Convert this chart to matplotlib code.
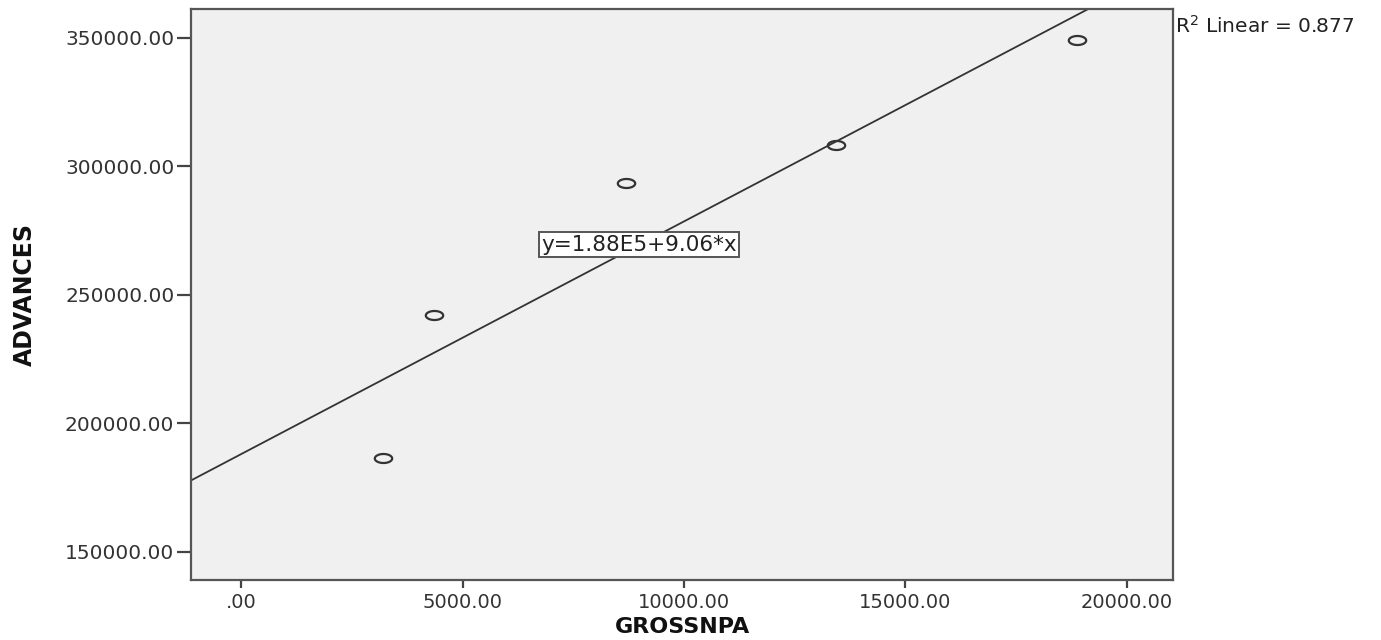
import numpy as np
import matplotlib
matplotlib.use("Agg")
import matplotlib.pyplot as plt
from matplotlib.path import Path

# data
grossnpa = [3212, 4357, 8691, 13431, 18864]
advances = [186470, 242200, 293645, 308460, 349340]
intercept = 1.88e5
slope = 9.06
r2 = 0.877
x_ticks = [0, 5000, 10000, 15000, 20000]
y_ticks = [150000, 200000, 250000, 300000, 350000]

plt.rcParams['font.family'] = ['DejaVu Sans']

fig = plt.figure(figsize=(13.81, 6.4), dpi=100)
ax = fig.add_axes([0.1383, 0.0945, 0.7111, 0.8915])
ax.set_facecolor('#f0f0f0')

# SPSS style wide open circles
t = np.linspace(0, 2 * np.pi, 60)
ellipse = Path(np.column_stack([np.cos(t), 0.52 * np.sin(t)]), closed=True)
ax.plot(grossnpa, advances, linestyle='none', marker=ellipse, markersize=12.5,
        markerfacecolor='none', markeredgecolor='#333333', markeredgewidth=1.6)

xlim = (-1130, 21040)
xs = np.array(xlim)
ax.plot(xs, intercept + slope * xs, color='#333333', linewidth=1.3)

ax.set_xlim(xlim)
ax.set_ylim(139200, 361300)
ax.set_xticks(x_ticks)
ax.set_yticks(y_ticks)
ax.set_xticklabels(['.00' if v == 0 else '%.2f' % v for v in x_ticks])
ax.set_yticklabels(['%.2f' % v for v in y_ticks])
ax.tick_params(axis='x', length=6, width=1.6, color='#444444', labelsize=14,
               labelcolor='#333333', pad=4)
ax.tick_params(axis='y', length=10, width=1.6, color='#444444', labelsize=14.5,
               labelcolor='#333333', pad=2)
for s in ax.spines.values():
    s.set_color('#555555')
    s.set_linewidth(1.6)

ax.set_xlabel('GROSSNPA', fontsize=16, fontweight='bold', color='#111111', labelpad=3)
ax.set_ylabel('ADVANCES', fontsize=17, fontweight='bold', color='#111111', labelpad=20)

ax.text(8984, 269500, 'y=1.88E5+9.06*x', fontsize=15.5, color='#222222',
        ha='center', va='center',
        bbox=dict(boxstyle='square,pad=0.12', facecolor='white', edgecolor='#555555', linewidth=1.4))

ax.text(1.002, 0.99, '$\\mathregular{R^2}$ Linear = %.3f' % r2, transform=ax.transAxes,
        fontsize=14.5, color='#222222', ha='left', va='top')

fig.savefig('out.png', dpi=100)
